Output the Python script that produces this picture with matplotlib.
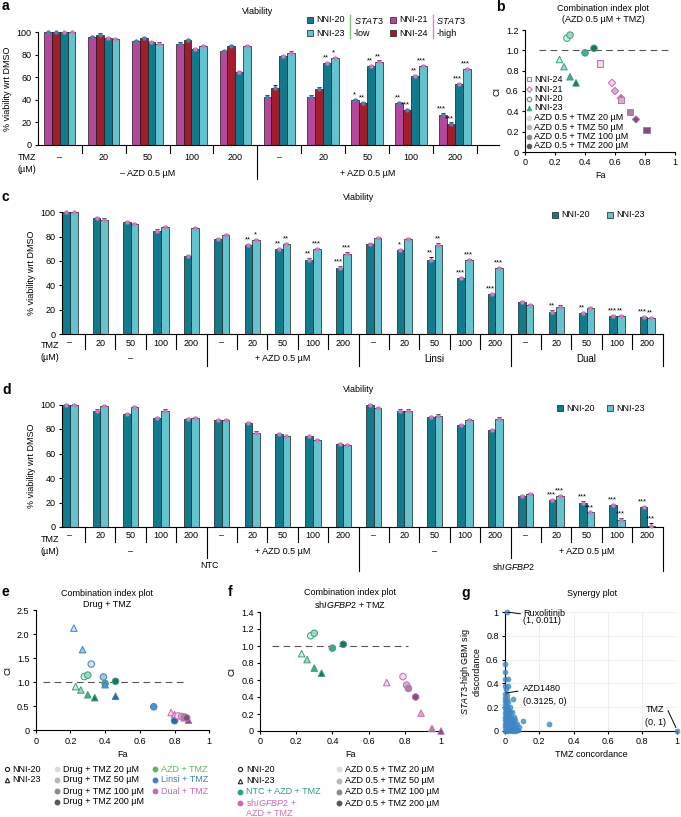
import matplotlib
matplotlib.use('Agg')
import matplotlib.pyplot as plt
import matplotlib.transforms as mtransforms
from matplotlib.lines import Line2D
import numpy as np

plt.rcParams['font.family'] = ['Liberation Sans', 'DejaVu Sans']
plt.rcParams['font.size'] = 6.5
plt.rcParams['mathtext.fontset'] = 'custom'
plt.rcParams['mathtext.rm'] = 'Liberation Sans'
plt.rcParams['mathtext.it'] = 'Liberation Sans:italic'
plt.rcParams['axes.linewidth'] = 0.8
plt.rcParams['xtick.major.width'] = 0.8
plt.rcParams['ytick.major.width'] = 0.8
plt.rcParams['xtick.major.size'] = 2.5
plt.rcParams['ytick.major.size'] = 2.5
plt.rcParams['xtick.major.pad'] = 2
plt.rcParams['ytick.major.pad'] = 2

# ---------------- data ----------------
tmz_doses = ['\u2013', '20', '50', '100', '200']

# panel a: % viability, order NNI-21, NNI-24, NNI-20, NNI-23
a_nni21 = [100, 96, 92, 90, 83, 43, 43, 40, 37, 27]
a_nni24 = [100, 98, 95, 93, 88, 51, 50, 37, 31, 19]
a_nni20 = [100, 95, 91, 85, 65, 79, 73, 70, 61, 54]
a_nni23 = [100, 94, 90, 88, 88, 82, 77, 74, 70, 67]
a_err21 = [0.5, 1, 1, 1, 1.5, 1.5, 1, 1, 1, 1]
a_err24 = [0.5, 1, 1, 1, 1, 2, 1.5, 1, 1, 1]
a_err20 = [0.5, 1, 1.5, 1, 1, 1, 1, 1, 1, 1]
a_err23 = [0.5, 1, 1, 1, 1, 1, 1, 1, 1, 1]
a_sig21 = ['', '', '', '', '', '', '', '*', '**', '***']
a_sig24 = ['', '', '', '', '', '', '', '**', '***', '***']
a_sig20 = ['', '', '', '', '', '', '**', '**', '**', '***']
a_sig23 = ['', '', '', '', '', '', '*', '**', '***', '***']

# panel c: -, +AZD, Linsi, Dual
c_nni20 = [100, 95, 92, 85, 64, 78, 73, 70, 61, 54, 74, 69, 61, 46, 33, 26, 18, 17, 15, 14]
c_nni23 = [100, 94, 90, 88, 87, 81, 77, 74, 70, 66, 79, 78, 73, 61, 54, 24, 22, 21, 15, 13]
c_err20 = [0.5, 1, 1, 1, 1, 1, 1, 1, 1.5, 2, 1, 1, 2, 1, 1, 1, 1.5, 1, 1, 1]
c_err23 = [0.5, 1, 1, 1, 1, 1, 1, 1, 1, 1, 1, 1, 1.5, 1, 1, 1, 1.5, 1, 1, 1]
c_sig20 = ['', '', '', '', '', '', '**', '**', '**', '***', '', '*', '**', '***', '***',
           '', '**', '**', '***', '***']
c_sig23 = ['', '', '', '', '', '', '*', '**', '***', '***', '', '', '**', '***', '***',
           '', '', '', '**', '**']

# panel d: NTC (-, +AZD), shIGFBP2 (-, +AZD)
d_nni20 = [100, 95, 92, 89, 88, 87, 85, 76, 74, 68, 100, 95, 90, 83, 79, 25, 22, 20, 18, 16]
d_nni23 = [100, 99, 98, 95, 89, 87, 77, 74, 71, 67, 97, 95, 91, 87, 88, 27, 25, 12, 6, 1]
d_err20 = [0.5, 1, 1, 1, 1, 1, 1, 0.5, 0.5, 0.5, 0.5, 1, 1, 1, 1, 1, 1, 1.5, 0.5, 1]
d_err23 = [0.5, 1, 1, 1.5, 1, 1.5, 1, 0.5, 0.5, 1, 1, 1, 1, 1, 1.5, 1, 1, 0.5, 1, 2.5]
d_sig20 = [''] * 15 + ['', '***', '***', '***', '***']
d_sig23 = [''] * 15 + ['', '***', '***', '***', '***']

# panel b / e / f: combination index (Fa, CI), TMZ 20, 50, 100, 200 uM
azd_nni20_fa = [0.28, 0.30, 0.40, 0.46]
azd_nni20_ci = [1.12, 1.15, 0.975, 1.02]
azd_nni23_fa = [0.23, 0.26, 0.30, 0.34]
azd_nni23_ci = [0.91, 0.84, 0.74, 0.68]
azd_nni24_fa = [0.50, 0.64, 0.70, 0.81]
azd_nni24_ci = [0.87, 0.51, 0.39, 0.22]
azd_nni21_fa = [0.58, 0.60, 0.64, 0.74]
azd_nni21_ci = [0.68, 0.60, 0.53, 0.32]

linsi_nni20_fa = [0.32, 0.39, 0.68, 0.80]
linsi_nni20_ci = [1.38, 1.11, 0.49, 0.20]
linsi_nni23_fa = [0.22, 0.27, 0.40, 0.46]
linsi_nni23_ci = [2.13, 1.68, 0.95, 0.71]
dual_nni20_fa = [0.82, 0.84, 0.855, 0.87]
dual_nni20_ci = [0.30, 0.29, 0.28, 0.26]
dual_nni23_fa = [0.78, 0.80, 0.855, 0.88]
dual_nni23_ci = [0.37, 0.33, 0.26, 0.21]

sh_nni20_fa = [0.79, 0.81, 0.82, 0.86]
sh_nni20_ci = [0.64, 0.54, 0.50, 0.40]
sh_nni23_fa = [0.70, 0.89, 0.95, 1.00]
sh_nni23_ci = [0.57, 0.21, 0.03, 0.00]

# panel g: synergy plot (TMZ concordance, STAT3-high sig discordance)
g_x = [0.011, 1.0, 0, 0, 0, 0.015, 0, 0.015, 0, 0.005, 0.012, 0, 0.01, 0.045,
       0, 0.02, 0, 0.008, 0.01, 0.03, 0, 0.015, 0.02, 0.025, 0.03, 0.04, 0,
       0.01, 0.03, 0.05, 0, 0.02, 0.025, 0.005, 0.04, 0.045, 0.06, 0.105, 0,
       0.01, 0.03, 0.05, 0.015, 0.07, 0.255, 0, 0.02, 0.035, 0.04, 0.06, 0.055,
       0.08, 0, 0.01, 0.03, 0.05, 0.07, 0, 0.02, 0.04, 0.06, 0.01,
       0.005, 0.015, 0.025, 0.035, 0.045, 0.055, 0.065, 0.005, 0.015, 0.025,
       0.035, 0.045, 0.005, 0.015, 0.025, 0.035, 0.005, 0.015, 0.025, 0.005,
       0.012, 0.02, 0.03, 0.042, 0.052, 0.062, 0.075]
g_y = [1.0, 0.0, 0.56, 0.50, 0.44, 0.44, 0.38, 0.38, 0.3125, 0.35, 0.30, 0.28,
       0.27, 0.27, 0.25, 0.24, 0.22, 0.20, 0.21, 0.20, 0.19, 0.18, 0.15, 0.17,
       0.16, 0.16, 0.15, 0.14, 0.13, 0.12, 0.12, 0.11, 0.10, 0.10, 0.10, 0.085,
       0.09, 0.085, 0.09, 0.08, 0.075, 0.07, 0.065, 0.06, 0.06, 0.06, 0.05,
       0.055, 0.045, 0.04, 0.03, 0.03, 0.03, 0.025, 0.02, 0.015, 0.01, 0.0,
       0.0, 0.0, 0.0, 0.01,
       0.04, 0.03, 0.045, 0.025, 0.02, 0.015, 0.02, 0.07, 0.085, 0.065,
       0.09, 0.06, 0.13, 0.11, 0.12, 0.1, 0.17, 0.16, 0.14, 0.24,
       0.005, 0.008, 0.005, 0.008, 0.005, 0.008, 0.005]

# ---------------- styles ----------------
TEAL = '#117b8d'
CYAN = '#63c4cf'
MAG = '#b4489c'
RED = '#a11d2b'
PINK_MK = '#c97cbf'
BLUE_MK = '#4f7fae'
GREEN_E = '#35a377'
BLUE_E = '#3f80bf'
PINK_E = '#c66db2'
green_fills = ['#d4efe2', '#9fd6bd', '#4ea883', '#237256']
blue_fills = ['#d4e4f4', '#a3c4e4', '#5d91c4', '#2d659f']
pink_fills = ['#f3d8ea', '#d6b0cc', '#ac7fa2', '#7a5374']
gray_fills = ['#dcdcdc', '#b8b8b8', '#8a8a8a', '#585858']

W, H = 681, 817
fig = plt.figure(figsize=(W / 100, H / 100), dpi=100)


def fx(px):
    return px / W


def fy(py):
    return 1 - py / H


def add_ax(l, t, r, b):
    return fig.add_axes([l / W, 1 - b / H, (r - l) / W, (b - t) / H])


def ftext(x, y, s, **kw):
    kw.setdefault('ha', 'left')
    kw.setdefault('va', 'center')
    fig.text(fx(x), fy(y), s, **kw)


def fmark(x, y, **kw):
    fig.add_artist(Line2D([fx(x)], [fy(y)], transform=fig.transFigure,
                          ls='none', **kw))


def panel_label(x, y, s):
    ftext(x, y, s, fontsize=10, fontweight='bold')


def draw_bars(ax, series, colors, errs, sigs, mk_colors, width):
    n = len(series)
    for k in range(n):
        vals = series[k]
        x = np.arange(len(vals)) + (k - (n - 1) / 2) * width
        ax.bar(x, vals, width, color=colors[k], edgecolor='#1a1a1a',
               linewidth=0.5, zorder=2)
        eb = ax.errorbar(x, vals, yerr=[np.zeros(len(vals)), errs[k]], fmt='none',
                         ecolor='k', elinewidth=0.6, capsize=1.6, capthick=0.6,
                         zorder=3)
        for art in list(eb[1]) + list(eb[2]):
            art.set_clip_on(False)
        ax.scatter(x, vals, s=10, color=mk_colors[k], linewidths=0, zorder=4,
                   clip_on=False)
        for xi, v, e, s in zip(x, vals, errs[k], sigs[k]):
            if s:
                ax.text(xi - 0.03, v + e + 0.5, s, ha='center', va='bottom',
                        fontsize=5.5)


def bar_axes(ax, xlim):
    ax.set_xlim(*xlim)
    ax.set_ylim(0, 100)
    ax.set_xticks([])
    ax.set_yticks(range(0, 101, 20))
    ax.spines[['top', 'right']].set_visible(False)
    ax.set_ylabel('% viability wrt DMSO', labelpad=3)


def vlines_below(ax, xs, y0, y1):
    tr = mtransforms.blended_transform_factory(ax.transData, fig.transFigure)
    for x in xs:
        ax.plot([x, x], [fy(y0), fy(y1)], transform=tr, color='k', lw=0.8,
                clip_on=False)


def text_below(ax, x, y, s, **kw):
    tr = mtransforms.blended_transform_factory(ax.transData, fig.transFigure)
    ax.text(x, fy(y), s, transform=tr, ha='center', va='center', **kw)


def ci_axes(ax, ymax, yticks, ylabels):
    ax.set_xlim(0, 1)
    ax.set_ylim(0, ymax)
    ax.set_xticks([0, 0.2, 0.4, 0.6, 0.8, 1.0])
    ax.set_xticklabels(['0', '0.2', '0.4', '0.6', '0.8', '1'])
    ax.set_yticks(yticks)
    ax.set_yticklabels(ylabels)
    ax.spines[['top', 'right']].set_visible(False)
    ax.set_xlabel('Fa', labelpad=3)
    ax.set_ylabel('CI', labelpad=3)


def ci_points(ax, fa, ci, marker, fills, edge, s=22):
    ax.scatter(fa, ci, s=s, marker=marker, c=fills, edgecolors=edge,
               linewidths=0.7, zorder=3, clip_on=False)


# ---------------- panel a ----------------
panel_label(2, 6, 'a')
ftext(258, 12, 'Viability', ha='center')
ax_a = add_ax(37.7, 32.3, 499, 145)
draw_bars(ax_a, [a_nni21, a_nni24, a_nni20, a_nni23], [MAG, RED, TEAL, CYAN],
          [a_err21, a_err24, a_err20, a_err23], [a_sig21, a_sig24, a_sig20, a_sig23],
          [BLUE_MK, BLUE_MK, PINK_MK, PINK_MK], 0.18)
bar_axes(ax_a, (-0.5, 10.0))
vlines_below(ax_a, [0.5, 1.5, 2.5, 3.5, 5.5, 6.5, 7.5, 8.5, 9.5], 145, 153)
vlines_below(ax_a, [4.5], 145, 179)
for i, lab in enumerate(tmz_doses * 2):
    text_below(ax_a, i, 158, lab)
text_below(ax_a, 2, 173, '\u2013 AZD 0.5 \u00b5M')
text_below(ax_a, 7, 173, '+ AZD 0.5 \u00b5M')
ftext(27, 158, 'TMZ', ha='center')
ftext(27, 169, '(\u00b5M)', ha='center')

# legend a
for y, col, lab in [(20, TEAL, 'NNI-20'), (33, CYAN, 'NNI-23')]:
    fmark(310, y, marker='s', ms=4.2, mfc=col, mec='#1a1a1a', mew=0.5)
    ftext(316, y, lab)
for y, col, lab in [(20, MAG, 'NNI-21'), (33, RED, 'NNI-24')]:
    fmark(393, y, marker='s', ms=4.2, mfc=col, mec='#1a1a1a', mew=0.5)
    ftext(399, y, lab)
fig.add_artist(Line2D([fx(350), fx(350)], [fy(15), fy(38)], transform=fig.transFigure,
                      color='#7cc47c', lw=1.0))
fig.add_artist(Line2D([fx(433), fx(433)], [fy(15), fy(38)], transform=fig.transFigure,
                      color='#d58ac4', lw=1.0))
ftext(353.5, 20, '$\\mathit{STAT3}$')
ftext(353.5, 33, '-low')
ftext(436.5, 20, '$\\mathit{STAT3}$')
ftext(436.5, 33, '-high')

# ---------------- panel b ----------------
panel_label(496, 7, 'b')
ftext(603, 14, 'Combination index plot\n(AZD 0.5 \u00b5M + TMZ)', ha='center',
      linespacing=1.25)
ax_b = add_ax(525, 30, 675, 152)
ci_axes(ax_b, 1.2, [0, 0.2, 0.4, 0.6, 0.8, 1.0, 1.2],
        ['0', '0.2', '0.4', '0.6', '0.8', '1.0', '1.2'])
ax_b.plot([0.09, 0.97], [1, 1], ls=(0, (6, 4)), color='#555555', lw=0.8, zorder=1)
ci_points(ax_b, azd_nni20_fa, azd_nni20_ci, 'o', green_fills, GREEN_E)
ci_points(ax_b, azd_nni23_fa, azd_nni23_ci, '^', green_fills, GREEN_E)
ci_points(ax_b, azd_nni21_fa, azd_nni21_ci, 'D', pink_fills, PINK_E, s=14)
ci_points(ax_b, azd_nni24_fa, azd_nni24_ci, 's', pink_fills, PINK_E, s=20)
b_rows = [79, 89, 98.5, 108, 117.5, 127, 136.5, 146]
fmark(529, b_rows[0], marker='s', ms=3.2, mfc='white', mec=PINK_E, mew=0.8)
ftext(534, b_rows[0], 'NNI-24')
fmark(529, b_rows[1], marker='D', ms=2.8, mfc='white', mec=PINK_E, mew=0.8)
ftext(534, b_rows[1], 'NNI-21')
fmark(529, b_rows[2], marker='o', ms=3.2, mfc='white', mec=GREEN_E, mew=0.8)
ftext(534, b_rows[2], 'NNI-20')
fmark(529, b_rows[3], marker='^', ms=3.4, mfc=GREEN_E, mec=GREEN_E, mew=0.6)
ftext(534, b_rows[3], 'NNI-23')
for y, col, dose in zip(b_rows[4:], gray_fills, ['20', '50', '100', '200']):
    fmark(529, y, marker='o', ms=3.0, mfc=col, mec=col)
    ftext(534, y, 'AZD 0.5 + TMZ %s \u00b5M' % dose)

# ---------------- panel c ----------------
panel_label(2, 197, 'c')
ftext(359, 198, 'Viability', ha='center')
ax_c = add_ax(61.7, 212.3, 662.6, 334)
draw_bars(ax_c, [c_nni20, c_nni23], [TEAL, CYAN], [c_err20, c_err23],
          [c_sig20, c_sig23], [PINK_MK, PINK_MK], 0.25)
bar_axes(ax_c, (-0.27, 19.5))
short_c = [i + 0.5 for i in range(19) if i not in (4, 9, 14)]
vlines_below(ax_c, short_c, 334, 349)
vlines_below(ax_c, [4.5, 9.5, 14.5, 19.5], 334, 366)
for i, lab in enumerate(tmz_doses * 4):
    text_below(ax_c, i, 343, lab)
for x, lab in [(2, '\u2013'), (7, '+ AZD 0.5 \u00b5M'), (12, 'Linsi'), (17, 'Dual')]:
    text_below(ax_c, x, 358.5, lab, fontsize=7 if lab in ('Linsi', 'Dual') else 6.5)
ftext(50, 346, 'TMZ', ha='center')
ftext(50, 358, '(\u00b5M)', ha='center')
for x, col, lab in [(555, TEAL, 'NNI-20'), (610, CYAN, 'NNI-23')]:
    fmark(x, 215, marker='s', ms=4.2, mfc=col, mec='#1a1a1a', mew=0.5)
    ftext(x + 6, 215, lab)

# ---------------- panel d ----------------
panel_label(2, 390, 'd')
ftext(359, 390, 'Viability', ha='center')
ax_d = add_ax(61.7, 404.5, 662.6, 527)
draw_bars(ax_d, [d_nni20, d_nni23], [TEAL, CYAN], [d_err20, d_err23],
          [d_sig20, d_sig23], [PINK_MK, PINK_MK], 0.25)
bar_axes(ax_d, (-0.27, 19.5))
short_d = [i + 0.5 for i in range(19) if i not in (4, 9, 14)]
vlines_below(ax_d, short_d, 527, 542)
vlines_below(ax_d, [4.5, 14.5], 527, 558)
vlines_below(ax_d, [9.5, 19.5], 527, 571)
for i, lab in enumerate(tmz_doses * 4):
    text_below(ax_d, i, 535.5, lab)
for x, lab in [(2, '\u2013'), (7, '+ AZD 0.5 \u00b5M'), (12, '\u2013'), (17, '+ AZD 0.5 \u00b5M')]:
    text_below(ax_d, x, 552, lab)
text_below(ax_d, 4.6, 566, 'NTC')
text_below(ax_d, 14.6, 566, 'sh$\\mathit{IGFBP2}$')
ftext(50, 540, 'TMZ', ha='center')
ftext(50, 552, '(\u00b5M)', ha='center')
for x, col, lab in [(560, TEAL, 'NNI-20'), (610, CYAN, 'NNI-23')]:
    fmark(x, 408, marker='s', ms=4.2, mfc=col, mec='#1a1a1a', mew=0.5)
    ftext(x + 6, 408, lab)

# ---------------- panel e ----------------
panel_label(2, 592, 'e')
ftext(107, 599, 'Combination index plot\nDrug + TMZ', ha='center', linespacing=1.25)
ax_e = add_ax(35.7, 610.3, 209.3, 730.3)
ci_axes(ax_e, 2.5, [0, 0.5, 1.0, 1.5, 2.0, 2.5], ['0', '0.5', '1.0', '1.5', '2.0', '2.5'])
ax_e.plot([0.04, 0.86], [1, 1], ls=(0, (6, 4)), color='#555555', lw=0.8, zorder=1)
ci_points(ax_e, azd_nni20_fa, azd_nni20_ci, 'o', green_fills, GREEN_E)
ci_points(ax_e, azd_nni23_fa, azd_nni23_ci, '^', green_fills, GREEN_E)
ci_points(ax_e, linsi_nni20_fa, linsi_nni20_ci, 'o', blue_fills, BLUE_E)
ci_points(ax_e, linsi_nni23_fa, linsi_nni23_ci, '^', blue_fills, BLUE_E)
ci_points(ax_e, dual_nni23_fa, dual_nni23_ci, '^', pink_fills, PINK_E)
ci_points(ax_e, dual_nni20_fa, dual_nni20_ci, 'o', pink_fills, PINK_E)
e_rows = [769, 780, 791, 802]
fmark(7, e_rows[0], marker='o', ms=3.0, mfc='white', mec='#222222', mew=0.8)
ftext(12, e_rows[0], 'NNI-20')
fmark(7, e_rows[1], marker='^', ms=3.2, mfc='white', mec='#222222', mew=0.8)
ftext(12, e_rows[1], 'NNI-23')
for y, col, dose in zip(e_rows, gray_fills, ['20', '50', '100', '200']):
    fmark(57, y, marker='o', ms=3.2, mfc=col, mec=col)
    ftext(63, y, 'Drug + TMZ %s \u00b5M' % dose)
for y, col, lab in zip(e_rows, ['#5cb85c', BLUE_E, PINK_E],
                       ['AZD + TMZ', 'Linsi + TMZ', 'Dual + TMZ']):
    fmark(155, y, marker='o', ms=3.2, mfc=col, mec=col)
    ftext(161, y, lab, color=col)

# ---------------- panel f ----------------
panel_label(228, 592, 'f')
ftext(350, 599, 'Combination index plot\nsh$\\mathit{IGFBP2}$ + TMZ', ha='center',
      linespacing=1.25)
ax_f = add_ax(260, 612, 441, 731)
ci_axes(ax_f, 1.4, [0, 0.2, 0.4, 0.6, 0.8, 1.0, 1.2, 1.4],
        ['0', '0.2', '0.4', '0.6', '0.8', '1.0', '1.2', '1.4'])
ax_f.plot([0.065, 0.82], [1, 1], ls=(0, (6, 4)), color='#555555', lw=0.8, zorder=1)
ci_points(ax_f, azd_nni20_fa, azd_nni20_ci, 'o', green_fills, GREEN_E)
ci_points(ax_f, azd_nni23_fa, azd_nni23_ci, '^', green_fills, GREEN_E)
ci_points(ax_f, sh_nni20_fa, sh_nni20_ci, 'o', pink_fills, PINK_E)
ci_points(ax_f, sh_nni23_fa, sh_nni23_ci, '^', pink_fills, PINK_E)
f_rows = [769, 780.5, 792, 803, 814]
fmark(240, f_rows[0], marker='o', ms=3.0, mfc='white', mec='#222222', mew=0.8)
ftext(246, f_rows[0], 'NNI-20')
fmark(240, f_rows[1], marker='^', ms=3.2, mfc='white', mec='#222222', mew=0.8)
ftext(246, f_rows[1], 'NNI-23')
fmark(240, f_rows[2], marker='o', ms=3.2, mfc='#2aa37a', mec='#2aa37a')
ftext(246, f_rows[2], 'NTC + AZD + TMZ', color='#2aa37a')
fmark(240, f_rows[3], marker='o', ms=3.2, mfc=PINK_E, mec=PINK_E)
ftext(246, f_rows[3], 'sh$\\mathit{IGFBP2}$ +', color=PINK_E)
ftext(246, f_rows[4], 'AZD + TMZ', color=PINK_E)
for y, col, dose in zip(f_rows, gray_fills, ['20', '50', '100', '200']):
    fmark(339, y, marker='o', ms=3.2, mfc=col, mec=col)
    ftext(345, y, 'AZD 0.5 + TMZ %s \u00b5M' % dose)

# ---------------- panel g ----------------
panel_label(461, 593, 'g')
ftext(592, 594, 'Synergy plot', ha='center')
ax_g = add_ax(505, 612, 676.7, 731)
ax_g.set_xlim(0, 1)
ax_g.set_ylim(0, 1)
ticks_g = [0, 0.2, 0.4, 0.6, 0.8, 1.0]
labs_g = ['0', '0.2', '0.4', '0.6', '0.8', '1']
ax_g.set_xticks(ticks_g)
ax_g.set_xticklabels(labs_g)
ax_g.set_yticks(ticks_g)
ax_g.set_yticklabels(labs_g)
ax_g.grid(True, color='#ececec', lw=0.6, zorder=0)
ax_g.set_axisbelow(True)
ax_g.spines[['top', 'right']].set_visible(False)
ax_g.scatter(g_x, g_y, s=17, color='#3f86c4', alpha=0.8, linewidths=0, zorder=3,
             clip_on=False)
ax_g.set_xlabel('TMZ concordance', labelpad=3)
ax_g.set_ylabel('$\\mathit{STAT3}$-high GBM sig\ndiscordance', labelpad=3,
                linespacing=1.1)
ax_g.plot([0.011, 0.09], [1.0, 0.985], color='k', lw=0.7, zorder=4)
ax_g.text(0.105, 0.99, 'Ruxolitinib', ha='left', va='center')
ax_g.text(0.105, 0.925, '(1, 0.011)', ha='left', va='center')
ax_g.plot([0.01, 0.075], [0.32, 0.335], color='k', lw=0.7, zorder=4)
ax_g.text(0.105, 0.36, 'AZD1480', ha='left', va='center')
ax_g.text(0.105, 0.25, '(0.3125, 0)', ha='left', va='center')
ax_g.plot([0.95, 0.995], [0.17, 0.03], color='k', lw=0.7, zorder=4)
ax_g.text(0.93, 0.18, 'TMZ', ha='right', va='center')
ax_g.text(0.94, 0.075, '(0, 1)', ha='right', va='center')

fig.savefig('out.png', dpi=100)
